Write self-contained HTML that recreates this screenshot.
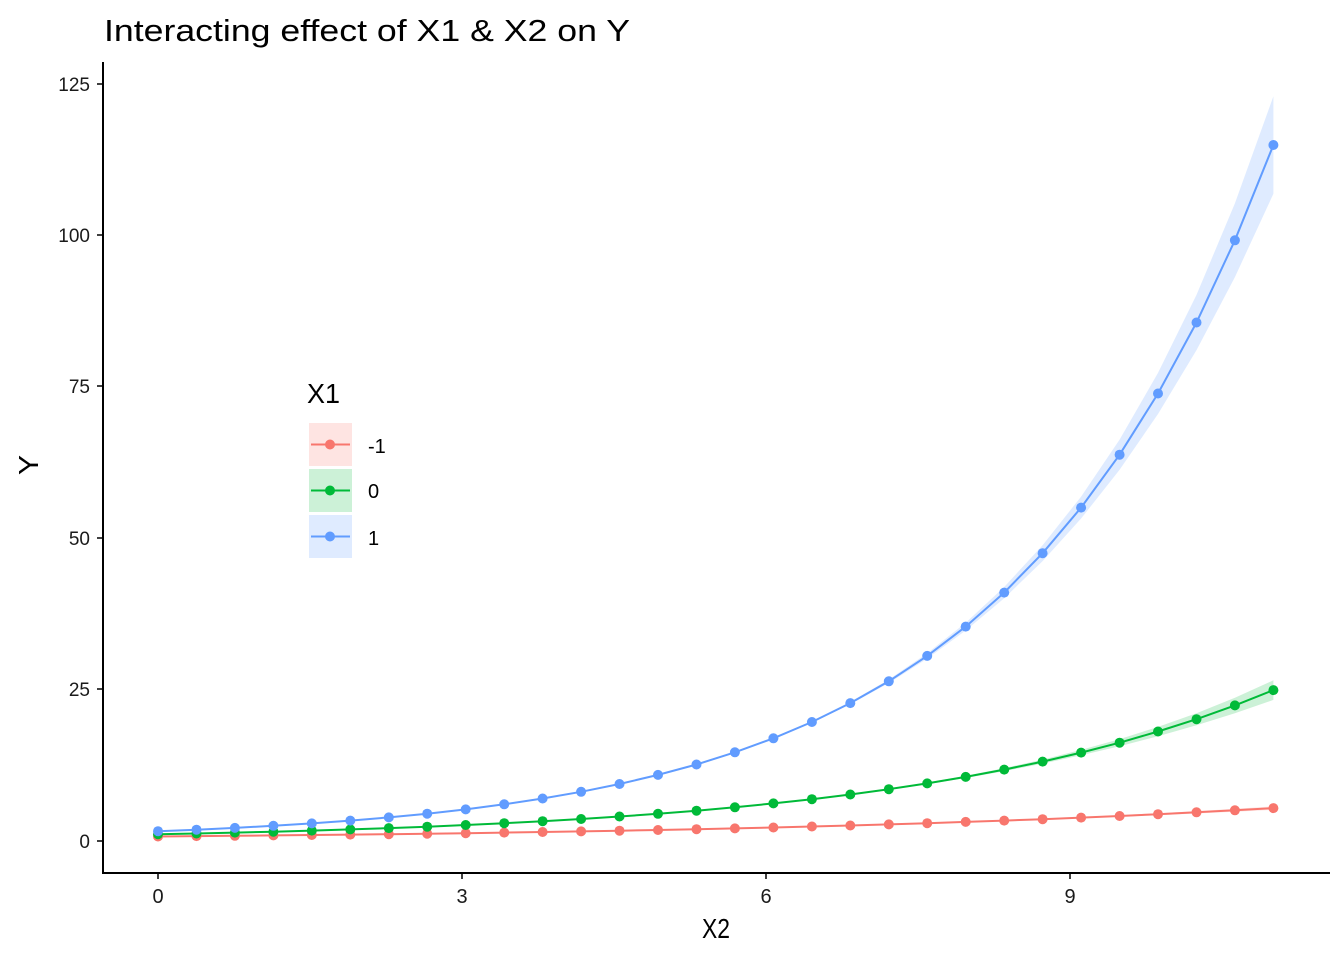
<!DOCTYPE html>
<html><head><meta charset="utf-8"><style>body{margin:0;background:#fff}svg{display:block}text{font-family:"Liberation Sans",sans-serif}</style></head>
<body>
<svg id="s" width="1344" height="960" xmlns="http://www.w3.org/2000/svg">
<rect width="1344" height="960" fill="#fff"/>
<text x="104" y="41" font-size="31" fill="#000" textLength="526" lengthAdjust="spacingAndGlyphs">Interacting effect of X1 &amp; X2 on Y</text>
<g id="plot"></g>
<line x1="103" y1="62" x2="103" y2="874" stroke="#000" stroke-width="2"/>
<line x1="102" y1="873" x2="1330" y2="873" stroke="#000" stroke-width="2"/>
<g font-size="19" fill="#1a1a1a" text-anchor="end">
<text x="90" y="848">0</text><text x="90" y="696">25</text><text x="90" y="545">50</text><text x="90" y="393">75</text><text x="90" y="242">100</text><text x="90" y="91">125</text>
</g>
<g stroke="#000" stroke-width="1.5">
<line x1="97" y1="841" x2="103" y2="841"/><line x1="97" y1="689" x2="103" y2="689"/><line x1="97" y1="538" x2="103" y2="538"/><line x1="97" y1="386" x2="103" y2="386"/><line x1="97" y1="235" x2="103" y2="235"/><line x1="97" y1="84" x2="103" y2="84"/>
<line x1="158" y1="873" x2="158" y2="879"/><line x1="462" y1="873" x2="462" y2="879"/><line x1="766" y1="873" x2="766" y2="879"/><line x1="1070" y1="873" x2="1070" y2="879"/>
</g>
<g font-size="20" fill="#1a1a1a" text-anchor="middle">
<text x="158" y="903">0</text><text x="462" y="903">3</text><text x="766" y="903">6</text><text x="1070" y="903">9</text>
</g>
<text x="702" y="938" font-size="28" textLength="28" lengthAdjust="spacingAndGlyphs">X2</text>
<text transform="translate(38,475) rotate(-90)" font-size="28" textLength="20" lengthAdjust="spacingAndGlyphs">Y</text>
<text x="307" y="403" font-size="28" textLength="33" lengthAdjust="spacingAndGlyphs">X1</text>
<g id="leg"></g>
<g font-size="20" fill="#000"><text x="368" y="453">-1</text><text x="368" y="498">0</text><text x="368" y="545">1</text></g>
</svg>
<script>
var ser=[["#F8766D",0.75,0.18,0.05],["#00BA38",1.12,0.282,0.06],["#619CFF",1.61,0.388,0.065]];
function X(v){return 158+v*101.4}function Y(v){return 841-v*6.056}
var p="",l="";
ser.forEach(function(s,k){var up=[],dn=[],pts=[];
for(var i=0;i<30;i++){var x=11*i/29,y=s[1]*Math.exp(s[2]*x),r=0.005+s[3]*Math.pow((x-5.5)/5.5,2);
up.push(X(x).toFixed(1)+","+Y(y*(1+r)).toFixed(1));dn.unshift(X(x).toFixed(1)+","+Y(y*(1-r)).toFixed(1));pts.push([X(x),Y(y)]);}
p+='<polygon points="'+up.join(" ")+" "+dn.join(" ")+'" fill="'+s[0]+'" fill-opacity="0.2"/>';
p+='<polyline points="'+pts.map(function(q){return q[0].toFixed(1)+","+q[1].toFixed(1)}).join(" ")+'" fill="none" stroke="'+s[0]+'" stroke-width="2"/>';
pts.forEach(function(q){p+='<circle cx="'+q[0].toFixed(1)+'" cy="'+q[1].toFixed(1)+'" r="5" fill="'+s[0]+'"/>';});
var top=423+k*46,cy=top+21.5;
l+='<rect x="309" y="'+top+'" width="43" height="43" fill="'+s[0]+'" fill-opacity="0.2"/><line x1="311" x2="350" y1="'+cy+'" y2="'+cy+'" stroke="'+s[0]+'" stroke-width="2"/><circle cx="330" cy="'+cy+'" r="5" fill="'+s[0]+'"/>';
});
document.getElementById("plot").innerHTML=p;document.getElementById("leg").innerHTML=l;
</script>
</body></html>
